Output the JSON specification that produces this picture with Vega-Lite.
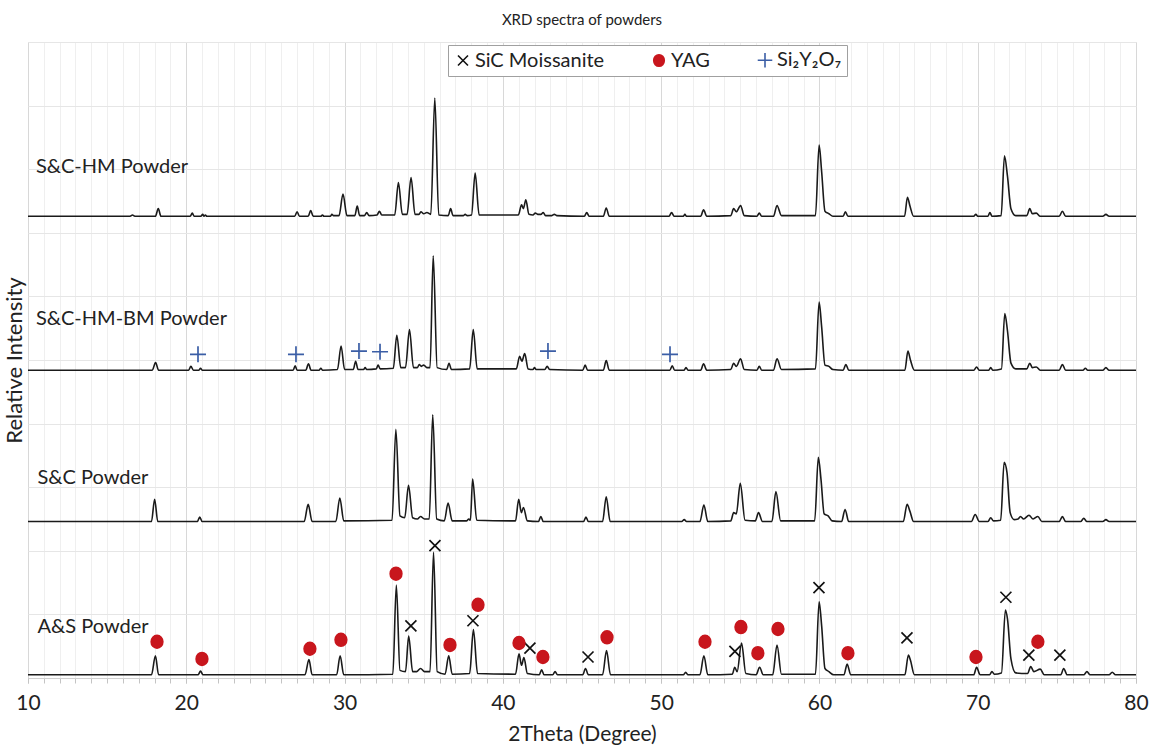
{
"$schema": "https://vega.github.io/schema/vega-lite/v6.json",
"width": 1108, "height": 636,
"autosize": {"type": "none"},
"padding": {"left": 28, "top": 42, "right": 17, "bottom": 69},
"background": "white",
"title": {"text": "XRD spectra of powders", "fontSize": 15, "fontWeight": "normal", "font": "Lato", "color": "#222", "offset": 14},
"config": {"font": "Lato", "view": {"stroke": "#d0d0d0"}, "axis": {"labelOverlap": false},
"legend": {"title": null, "orient": "none", "legendX": 420, "legendY": 3, "direction": "horizontal", "padding": 5, "strokeColor": "#a0a0a0", "fillColor": "white", "symbolSize": 330, "symbolStrokeWidth": 1.6, "labelFontSize": 20, "labelColor": "#222", "labelLimit": 400, "columnPadding": 44, "labelOffset": 2}},
"resolve": {"axis": {"x": "independent"}},
"datasets": {
"spectra": [
{"s":"A","x":10,"y":0.05},{"s":"A","x":17.8,"y":0.05},{"s":"A","x":18.05,"y":0.35},{"s":"A","x":18.25,"y":0.05},{"s":"A","x":20.75,"y":0.05},{"s":"A","x":20.9,"y":0.11},{"s":"A","x":21.05,"y":0.05},{"s":"A","x":27.5,"y":0.05},{"s":"A","x":27.75,"y":0.29},{"s":"A","x":27.95,"y":0.05},{"s":"A","x":29.5,"y":0.05},{"s":"A","x":29.72,"y":0.35},{"s":"A","x":29.95,"y":0.05},{"s":"A","x":33.05,"y":0.06},{"s":"A","x":33.27,"y":1.46},{"s":"A","x":33.5,"y":0.12},{"s":"A","x":33.85,"y":0.1},{"s":"A","x":34.05,"y":0.66},{"s":"A","x":34.3,"y":0.1},{"s":"A","x":34.55,"y":0.1},{"s":"A","x":34.8,"y":0.15},{"s":"A","x":35.05,"y":0.1},{"s":"A","x":35.4,"y":0.1},{"s":"A","x":35.62,"y":1.98},{"s":"A","x":35.85,"y":0.1},{"s":"A","x":36.35,"y":0.06},{"s":"A","x":36.58,"y":0.35},{"s":"A","x":36.8,"y":0.06},{"s":"A","x":37.9,"y":0.07},{"s":"A","x":38.14,"y":0.76},{"s":"A","x":38.4,"y":0.07},{"s":"A","x":40.8,"y":0.06},{"s":"A","x":41.02,"y":0.38},{"s":"A","x":41.18,"y":0.2},{"s":"A","x":41.33,"y":0.32},{"s":"A","x":41.55,"y":0.07},{"s":"A","x":42.3,"y":0.05},{"s":"A","x":42.45,"y":0.13},{"s":"A","x":42.6,"y":0.05},{"s":"A","x":43.15,"y":0.05},{"s":"A","x":43.3,"y":0.1},{"s":"A","x":43.45,"y":0.05},{"s":"A","x":45.05,"y":0.05},{"s":"A","x":45.22,"y":0.15},{"s":"A","x":45.4,"y":0.05},{"s":"A","x":46.3,"y":0.05},{"s":"A","x":46.55,"y":0.43},{"s":"A","x":46.8,"y":0.05},{"s":"A","x":51.4,"y":0.05},{"s":"A","x":51.55,"y":0.09},{"s":"A","x":51.7,"y":0.05},{"s":"A","x":52.45,"y":0.05},{"s":"A","x":52.7,"y":0.35},{"s":"A","x":52.95,"y":0.05},{"s":"A","x":54.5,"y":0.06},{"s":"A","x":54.65,"y":0.17},{"s":"A","x":54.8,"y":0.1},{"s":"A","x":55.08,"y":0.55},{"s":"A","x":55.35,"y":0.07},{"s":"A","x":56.0,"y":0.05},{"s":"A","x":56.22,"y":0.17},{"s":"A","x":56.45,"y":0.05},{"s":"A","x":57.05,"y":0.05},{"s":"A","x":57.32,"y":0.52},{"s":"A","x":57.6,"y":0.06},{"s":"A","x":59.75,"y":0.06},{"s":"A","x":59.98,"y":1.2},{"s":"A","x":60.14,"y":0.82},{"s":"A","x":60.35,"y":0.15},{"s":"A","x":60.6,"y":0.1},{"s":"A","x":60.9,"y":0.05},{"s":"A","x":61.55,"y":0.05},{"s":"A","x":61.75,"y":0.22},{"s":"A","x":61.98,"y":0.05},{"s":"A","x":65.4,"y":0.05},{"s":"A","x":65.62,"y":0.36},{"s":"A","x":65.75,"y":0.28},{"s":"A","x":66.0,"y":0.05},{"s":"A","x":69.75,"y":0.05},{"s":"A","x":69.93,"y":0.17},{"s":"A","x":70.15,"y":0.05},{"s":"A","x":70.75,"y":0.05},{"s":"A","x":70.9,"y":0.1},{"s":"A","x":71.05,"y":0.06},{"s":"A","x":71.5,"y":0.08},{"s":"A","x":71.75,"y":1.07},{"s":"A","x":71.88,"y":0.93},{"s":"A","x":72.1,"y":0.3},{"s":"A","x":72.4,"y":0.08},{"s":"A","x":73.15,"y":0.07},{"s":"A","x":73.35,"y":0.18},{"s":"A","x":73.55,"y":0.1},{"s":"A","x":73.95,"y":0.14},{"s":"A","x":74.2,"y":0.05},{"s":"A","x":75.25,"y":0.05},{"s":"A","x":75.43,"y":0.15},{"s":"A","x":75.65,"y":0.05},{"s":"A","x":76.7,"y":0.05},{"s":"A","x":76.9,"y":0.1},{"s":"A","x":77.1,"y":0.05},{"s":"A","x":78.3,"y":0.05},{"s":"A","x":78.5,"y":0.09},{"s":"A","x":78.7,"y":0.05},{"s":"A","x":80,"y":0.05},
{"s":"C","x":10,"y":2.46},{"s":"C","x":17.8,"y":2.46},{"s":"C","x":18.0,"y":2.81},{"s":"C","x":18.2,"y":2.46},{"s":"C","x":20.7,"y":2.46},{"s":"C","x":20.85,"y":2.53},{"s":"C","x":21.0,"y":2.46},{"s":"C","x":27.45,"y":2.46},{"s":"C","x":27.7,"y":2.73},{"s":"C","x":27.95,"y":2.46},{"s":"C","x":29.45,"y":2.46},{"s":"C","x":29.7,"y":2.83},{"s":"C","x":29.95,"y":2.47},{"s":"C","x":33.0,"y":2.48},{"s":"C","x":33.24,"y":3.91},{"s":"C","x":33.5,"y":2.55},{"s":"C","x":33.8,"y":2.52},{"s":"C","x":34.04,"y":3.03},{"s":"C","x":34.3,"y":2.52},{"s":"C","x":34.6,"y":2.5},{"s":"C","x":34.8,"y":2.54},{"s":"C","x":35.05,"y":2.5},{"s":"C","x":35.35,"y":2.5},{"s":"C","x":35.57,"y":4.14},{"s":"C","x":35.82,"y":2.5},{"s":"C","x":36.3,"y":2.47},{"s":"C","x":36.54,"y":2.75},{"s":"C","x":36.8,"y":2.47},{"s":"C","x":37.7,"y":2.47},{"s":"C","x":37.85,"y":2.5},{"s":"C","x":37.95,"y":2.48},{"s":"C","x":38.09,"y":3.13},{"s":"C","x":38.35,"y":2.48},{"s":"C","x":40.8,"y":2.47},{"s":"C","x":41.0,"y":2.81},{"s":"C","x":41.17,"y":2.6},{"s":"C","x":41.3,"y":2.68},{"s":"C","x":41.55,"y":2.47},{"s":"C","x":42.25,"y":2.46},{"s":"C","x":42.4,"y":2.54},{"s":"C","x":42.55,"y":2.46},{"s":"C","x":45.1,"y":2.46},{"s":"C","x":45.25,"y":2.53},{"s":"C","x":45.4,"y":2.46},{"s":"C","x":46.3,"y":2.46},{"s":"C","x":46.53,"y":2.85},{"s":"C","x":46.78,"y":2.46},{"s":"C","x":51.3,"y":2.46},{"s":"C","x":51.46,"y":2.49},{"s":"C","x":51.6,"y":2.46},{"s":"C","x":52.45,"y":2.46},{"s":"C","x":52.7,"y":2.72},{"s":"C","x":52.95,"y":2.46},{"s":"C","x":54.4,"y":2.47},{"s":"C","x":54.58,"y":2.6},{"s":"C","x":54.75,"y":2.58},{"s":"C","x":55.0,"y":3.06},{"s":"C","x":55.3,"y":2.48},{"s":"C","x":55.95,"y":2.47},{"s":"C","x":56.15,"y":2.6},{"s":"C","x":56.4,"y":2.46},{"s":"C","x":57.0,"y":2.46},{"s":"C","x":57.25,"y":2.93},{"s":"C","x":57.55,"y":2.47},{"s":"C","x":59.7,"y":2.47},{"s":"C","x":59.93,"y":3.47},{"s":"C","x":60.1,"y":3.12},{"s":"C","x":60.3,"y":2.58},{"s":"C","x":60.55,"y":2.55},{"s":"C","x":60.8,"y":2.47},{"s":"C","x":61.4,"y":2.46},{"s":"C","x":61.62,"y":2.65},{"s":"C","x":61.85,"y":2.46},{"s":"C","x":65.3,"y":2.46},{"s":"C","x":65.54,"y":2.73},{"s":"C","x":65.72,"y":2.62},{"s":"C","x":65.95,"y":2.46},{"s":"C","x":69.6,"y":2.46},{"s":"C","x":69.84,"y":2.57},{"s":"C","x":70.1,"y":2.46},{"s":"C","x":70.65,"y":2.46},{"s":"C","x":70.82,"y":2.52},{"s":"C","x":71.0,"y":2.47},{"s":"C","x":71.45,"y":2.48},{"s":"C","x":71.67,"y":3.39},{"s":"C","x":71.85,"y":3.23},{"s":"C","x":72.05,"y":2.6},{"s":"C","x":72.3,"y":2.49},{"s":"C","x":72.55,"y":2.5},{"s":"C","x":72.7,"y":2.54},{"s":"C","x":72.9,"y":2.5},{"s":"C","x":73.24,"y":2.56},{"s":"C","x":73.5,"y":2.5},{"s":"C","x":73.8,"y":2.54},{"s":"C","x":74.05,"y":2.46},{"s":"C","x":75.15,"y":2.46},{"s":"C","x":75.35,"y":2.54},{"s":"C","x":75.55,"y":2.46},{"s":"C","x":76.5,"y":2.46},{"s":"C","x":76.7,"y":2.51},{"s":"C","x":76.9,"y":2.46},{"s":"C","x":77.9,"y":2.46},{"s":"C","x":78.1,"y":2.49},{"s":"C","x":78.3,"y":2.46},{"s":"C","x":80,"y":2.46},
{"s":"B","x":10,"y":4.84},{"s":"B","x":17.85,"y":4.84},{"s":"B","x":18.06,"y":4.96},{"s":"B","x":18.25,"y":4.84},{"s":"B","x":20.15,"y":4.84},{"s":"B","x":20.29,"y":4.9},{"s":"B","x":20.45,"y":4.84},{"s":"B","x":20.8,"y":4.84},{"s":"B","x":20.9,"y":4.87},{"s":"B","x":21.0,"y":4.84},{"s":"B","x":26.75,"y":4.84},{"s":"B","x":26.88,"y":4.91},{"s":"B","x":27.0,"y":4.84},{"s":"B","x":27.55,"y":4.84},{"s":"B","x":27.72,"y":4.94},{"s":"B","x":27.88,"y":4.84},{"s":"B","x":28.4,"y":4.84},{"s":"B","x":28.5,"y":4.87},{"s":"B","x":28.6,"y":4.84},{"s":"B","x":29.55,"y":4.85},{"s":"B","x":29.78,"y":5.22},{"s":"B","x":30.0,"y":4.85},{"s":"B","x":30.55,"y":4.85},{"s":"B","x":30.7,"y":4.98},{"s":"B","x":30.85,"y":4.85},{"s":"B","x":31.2,"y":4.85},{"s":"B","x":31.3,"y":4.88},{"s":"B","x":31.4,"y":4.85},{"s":"B","x":32.0,"y":4.86},{"s":"B","x":32.12,"y":4.92},{"s":"B","x":32.25,"y":4.86},{"s":"B","x":33.08,"y":4.87},{"s":"B","x":33.3,"y":5.39},{"s":"B","x":33.55,"y":4.88},{"s":"B","x":33.85,"y":4.88},{"s":"B","x":34.1,"y":5.48},{"s":"B","x":34.35,"y":4.88},{"s":"B","x":34.6,"y":4.88},{"s":"B","x":34.72,"y":4.93},{"s":"B","x":34.85,"y":4.9},{"s":"B","x":35.0,"y":4.92},{"s":"B","x":35.2,"y":4.88},{"s":"B","x":35.4,"y":4.88},{"s":"B","x":35.6,"y":6.64},{"s":"B","x":35.85,"y":4.88},{"s":"B","x":36.45,"y":4.85},{"s":"B","x":36.6,"y":4.95},{"s":"B","x":36.75,"y":4.85},{"s":"B","x":37.9,"y":4.86},{"s":"B","x":38.13,"y":5.48},{"s":"B","x":38.38,"y":4.86},{"s":"B","x":40.85,"y":4.86},{"s":"B","x":41.06,"y":5.06},{"s":"B","x":41.2,"y":4.98},{"s":"B","x":41.38,"y":5.1},{"s":"B","x":41.6,"y":4.86},{"s":"B","x":41.9,"y":4.85},{"s":"B","x":42.0,"y":4.88},{"s":"B","x":42.1,"y":4.85},{"s":"B","x":42.65,"y":4.85},{"s":"B","x":42.8,"y":4.9},{"s":"B","x":42.95,"y":4.85},{"s":"B","x":45.05,"y":4.84},{"s":"B","x":45.2,"y":4.92},{"s":"B","x":45.35,"y":4.84},{"s":"B","x":46.35,"y":4.84},{"s":"B","x":46.53,"y":4.99},{"s":"B","x":46.72,"y":4.84},{"s":"B","x":50.55,"y":4.84},{"s":"B","x":50.7,"y":4.91},{"s":"B","x":50.85,"y":4.84},{"s":"B","x":51.45,"y":4.84},{"s":"B","x":51.57,"y":4.88},{"s":"B","x":51.7,"y":4.84},{"s":"B","x":52.5,"y":4.84},{"s":"B","x":52.68,"y":4.94},{"s":"B","x":52.88,"y":4.84},{"s":"B","x":54.4,"y":4.85},{"s":"B","x":54.58,"y":4.95},{"s":"B","x":54.75,"y":4.9},{"s":"B","x":55.02,"y":5.02},{"s":"B","x":55.25,"y":4.85},{"s":"B","x":56.05,"y":4.84},{"s":"B","x":56.2,"y":4.9},{"s":"B","x":56.35,"y":4.84},{"s":"B","x":57.1,"y":4.84},{"s":"B","x":57.32,"y":5.02},{"s":"B","x":57.6,"y":4.85},{"s":"B","x":59.75,"y":4.86},{"s":"B","x":59.98,"y":5.91},{"s":"B","x":60.14,"y":5.52},{"s":"B","x":60.35,"y":4.92},{"s":"B","x":60.6,"y":4.9},{"s":"B","x":60.85,"y":4.85},{"s":"B","x":61.5,"y":4.84},{"s":"B","x":61.67,"y":4.93},{"s":"B","x":61.85,"y":4.84},{"s":"B","x":65.4,"y":4.84},{"s":"B","x":65.59,"y":5.14},{"s":"B","x":65.75,"y":5.0},{"s":"B","x":66.0,"y":4.84},{"s":"B","x":69.75,"y":4.84},{"s":"B","x":69.93,"y":4.89},{"s":"B","x":70.1,"y":4.84},{"s":"B","x":70.7,"y":4.84},{"s":"B","x":70.82,"y":4.88},{"s":"B","x":70.95,"y":4.84},{"s":"B","x":71.5,"y":4.86},{"s":"B","x":71.71,"y":5.73},{"s":"B","x":71.88,"y":5.46},{"s":"B","x":72.1,"y":4.95},{"s":"B","x":72.4,"y":4.86},{"s":"B","x":73.1,"y":4.86},{"s":"B","x":73.29,"y":4.95},{"s":"B","x":73.45,"y":4.88},{"s":"B","x":73.7,"y":4.89},{"s":"B","x":73.95,"y":4.84},{"s":"B","x":75.15,"y":4.84},{"s":"B","x":75.35,"y":4.93},{"s":"B","x":75.55,"y":4.84},{"s":"B","x":76.65,"y":4.84},{"s":"B","x":76.8,"y":4.87},{"s":"B","x":76.95,"y":4.84},{"s":"B","x":77.9,"y":4.84},{"s":"B","x":78.1,"y":4.88},{"s":"B","x":78.3,"y":4.84},{"s":"B","x":80,"y":4.84},
{"s":"H","x":10,"y":7.26},{"s":"H","x":16.45,"y":7.26},{"s":"H","x":16.6,"y":7.28},{"s":"H","x":16.75,"y":7.26},{"s":"H","x":18.05,"y":7.26},{"s":"H","x":18.23,"y":7.38},{"s":"H","x":18.4,"y":7.26},{"s":"H","x":20.25,"y":7.26},{"s":"H","x":20.38,"y":7.31},{"s":"H","x":20.5,"y":7.26},{"s":"H","x":20.92,"y":7.26},{"s":"H","x":21.04,"y":7.29},{"s":"H","x":21.12,"y":7.26},{"s":"H","x":21.2,"y":7.28},{"s":"H","x":21.3,"y":7.26},{"s":"H","x":26.85,"y":7.26},{"s":"H","x":27.0,"y":7.33},{"s":"H","x":27.15,"y":7.26},{"s":"H","x":27.7,"y":7.26},{"s":"H","x":27.86,"y":7.35},{"s":"H","x":28.02,"y":7.26},{"s":"H","x":28.5,"y":7.26},{"s":"H","x":28.6,"y":7.28},{"s":"H","x":28.7,"y":7.26},{"s":"H","x":29.1,"y":7.26},{"s":"H","x":29.2,"y":7.29},{"s":"H","x":29.3,"y":7.27},{"s":"H","x":29.65,"y":7.27},{"s":"H","x":29.9,"y":7.61},{"s":"H","x":30.15,"y":7.27},{"s":"H","x":30.65,"y":7.27},{"s":"H","x":30.8,"y":7.42},{"s":"H","x":30.95,"y":7.27},{"s":"H","x":31.25,"y":7.27},{"s":"H","x":31.4,"y":7.32},{"s":"H","x":31.55,"y":7.27},{"s":"H","x":32.05,"y":7.28},{"s":"H","x":32.2,"y":7.34},{"s":"H","x":32.35,"y":7.28},{"s":"H","x":33.17,"y":7.28},{"s":"H","x":33.4,"y":7.79},{"s":"H","x":33.65,"y":7.29},{"s":"H","x":33.95,"y":7.29},{"s":"H","x":34.2,"y":7.87},{"s":"H","x":34.45,"y":7.29},{"s":"H","x":34.7,"y":7.29},{"s":"H","x":34.82,"y":7.33},{"s":"H","x":35.0,"y":7.3},{"s":"H","x":35.2,"y":7.32},{"s":"H","x":35.45,"y":7.29},{"s":"H","x":35.7,"y":9.12},{"s":"H","x":35.95,"y":7.28},{"s":"H","x":36.55,"y":7.27},{"s":"H","x":36.7,"y":7.38},{"s":"H","x":36.85,"y":7.27},{"s":"H","x":37.5,"y":7.27},{"s":"H","x":37.62,"y":7.29},{"s":"H","x":37.75,"y":7.27},{"s":"H","x":38.02,"y":7.28},{"s":"H","x":38.25,"y":7.94},{"s":"H","x":38.5,"y":7.28},{"s":"H","x":40.98,"y":7.28},{"s":"H","x":41.18,"y":7.44},{"s":"H","x":41.3,"y":7.38},{"s":"H","x":41.45,"y":7.52},{"s":"H","x":41.65,"y":7.29},{"s":"H","x":41.9,"y":7.28},{"s":"H","x":42.05,"y":7.31},{"s":"H","x":42.2,"y":7.29},{"s":"H","x":42.4,"y":7.29},{"s":"H","x":42.55,"y":7.32},{"s":"H","x":42.7,"y":7.27},{"s":"H","x":43.1,"y":7.27},{"s":"H","x":43.25,"y":7.29},{"s":"H","x":43.4,"y":7.27},{"s":"H","x":45.15,"y":7.26},{"s":"H","x":45.3,"y":7.32},{"s":"H","x":45.45,"y":7.26},{"s":"H","x":46.35,"y":7.26},{"s":"H","x":46.53,"y":7.39},{"s":"H","x":46.72,"y":7.26},{"s":"H","x":50.5,"y":7.26},{"s":"H","x":50.66,"y":7.32},{"s":"H","x":50.82,"y":7.26},{"s":"H","x":51.4,"y":7.26},{"s":"H","x":51.5,"y":7.29},{"s":"H","x":51.6,"y":7.26},{"s":"H","x":52.5,"y":7.26},{"s":"H","x":52.68,"y":7.36},{"s":"H","x":52.88,"y":7.26},{"s":"H","x":54.4,"y":7.27},{"s":"H","x":54.58,"y":7.38},{"s":"H","x":54.75,"y":7.33},{"s":"H","x":55.02,"y":7.43},{"s":"H","x":55.25,"y":7.27},{"s":"H","x":56.05,"y":7.26},{"s":"H","x":56.2,"y":7.31},{"s":"H","x":56.35,"y":7.26},{"s":"H","x":57.1,"y":7.26},{"s":"H","x":57.32,"y":7.43},{"s":"H","x":57.6,"y":7.27},{"s":"H","x":59.75,"y":7.27},{"s":"H","x":59.98,"y":8.38},{"s":"H","x":60.14,"y":7.96},{"s":"H","x":60.35,"y":7.34},{"s":"H","x":60.6,"y":7.3},{"s":"H","x":60.85,"y":7.26},{"s":"H","x":61.5,"y":7.26},{"s":"H","x":61.64,"y":7.33},{"s":"H","x":61.8,"y":7.26},{"s":"H","x":65.38,"y":7.26},{"s":"H","x":65.56,"y":7.56},{"s":"H","x":65.72,"y":7.42},{"s":"H","x":65.95,"y":7.26},{"s":"H","x":69.75,"y":7.26},{"s":"H","x":69.88,"y":7.29},{"s":"H","x":70.0,"y":7.26},{"s":"H","x":70.65,"y":7.26},{"s":"H","x":70.77,"y":7.32},{"s":"H","x":70.9,"y":7.26},{"s":"H","x":71.48,"y":7.27},{"s":"H","x":71.69,"y":8.21},{"s":"H","x":71.88,"y":7.89},{"s":"H","x":72.1,"y":7.38},{"s":"H","x":72.4,"y":7.27},{"s":"H","x":73.1,"y":7.27},{"s":"H","x":73.29,"y":7.38},{"s":"H","x":73.45,"y":7.3},{"s":"H","x":73.7,"y":7.31},{"s":"H","x":73.95,"y":7.26},{"s":"H","x":75.15,"y":7.26},{"s":"H","x":75.35,"y":7.34},{"s":"H","x":75.55,"y":7.26},{"s":"H","x":77.9,"y":7.26},{"s":"H","x":78.1,"y":7.29},{"s":"H","x":78.3,"y":7.26},{"s":"H","x":80,"y":7.26}
],
"markers": [
{"m":"SiC Moissanite","x":35.71,"y":2.08},{"m":"SiC Moissanite","x":34.19,"y":0.82},{"m":"SiC Moissanite","x":38.11,"y":0.9},{"m":"SiC Moissanite","x":41.71,"y":0.47},{"m":"SiC Moissanite","x":45.38,"y":0.33},{"m":"SiC Moissanite","x":54.66,"y":0.42},{"m":"SiC Moissanite","x":59.97,"y":1.42},{"m":"SiC Moissanite","x":65.53,"y":0.63},{"m":"SiC Moissanite","x":71.78,"y":1.27},{"m":"SiC Moissanite","x":73.23,"y":0.36},{"m":"SiC Moissanite","x":75.19,"y":0.36},
{"m":"YAG","x":18.15,"y":0.57},{"m":"YAG","x":20.99,"y":0.3},{"m":"YAG","x":27.81,"y":0.46},{"m":"YAG","x":29.77,"y":0.6},{"m":"YAG","x":33.25,"y":1.64},{"m":"YAG","x":36.66,"y":0.52},{"m":"YAG","x":38.43,"y":1.15},{"m":"YAG","x":41.02,"y":0.55},{"m":"YAG","x":42.53,"y":0.33},{"m":"YAG","x":46.58,"y":0.64},{"m":"YAG","x":52.77,"y":0.57},{"m":"YAG","x":55.04,"y":0.8},{"m":"YAG","x":56.11,"y":0.39},{"m":"YAG","x":57.38,"y":0.77},{"m":"YAG","x":61.8,"y":0.39},{"m":"YAG","x":69.89,"y":0.33},{"m":"YAG","x":73.8,"y":0.57},
{"m":"Si₂Y₂O₇","x":20.74,"y":5.09},{"m":"Si₂Y₂O₇","x":26.93,"y":5.09},{"m":"Si₂Y₂O₇","x":30.91,"y":5.14},{"m":"Si₂Y₂O₇","x":32.24,"y":5.13},{"m":"Si₂Y₂O₇","x":42.85,"y":5.14},{"m":"Si₂Y₂O₇","x":50.56,"y":5.09}
],
"labels": [
{"t":"S&C-HM Powder","x":10.5,"y":8.03},
{"t":"S&C-HM-BM Powder","x":10.5,"y":5.64},
{"t":"S&C Powder","x":10.6,"y":3.14},
{"t":"A&S Powder","x":10.6,"y":0.8}
]
},
"layer": [
{
"data": {"name": "spectra"},
"mark": {"type": "line", "color": "#1a1a1a", "strokeWidth": 1.6, "interpolate": "monotone"},
"encoding": {
"x": {"field": "x", "type": "quantitative", "scale": {"domain": [10, 80], "nice": false},
"axis": {"orient": "bottom", "values": [10,11,12,13,14,15,16,17,18,19,20,21,22,23,24,25,26,27,28,29,30,31,32,33,34,35,36,37,38,39,40,41,42,43,44,45,46,47,48,49,50,51,52,53,54,55,56,57,58,59,60,61,62,63,64,65,66,67,68,69,70,71,72,73,74,75,76,77,78,79,80],
"labels": false, "grid": true, "gridColor": "#efefef",
"tickColor": "#c4c4c4", "tickSize": 5, "domainColor": "#d0d0d0", "title": null}},
"y": {"field": "y", "type": "quantitative", "scale": {"domain": [0, 10], "nice": false},
"axis": {"values": [0,1,2,3,4,5,6,7,8,9,10], "labels": false, "ticks": false, "domain": false, "grid": true, "gridColor": "#e6e6e6",
"title": "Relative Intensity", "titleFontSize": 22, "titleFontWeight": "normal", "titleColor": "#222", "titlePadding": 2}},
"detail": {"field": "s"}
}
},
{
"data": {"name": "markers"},
"mark": {"type": "point", "size": 400, "strokeWidth": 1.7, "opacity": 1},
"encoding": {
"x": {"field": "x", "type": "quantitative",
"axis": {"orient": "bottom", "values": [10,20,30,40,50,60,70,80], "labelOverlap": false, "labelFlush": false,
"grid": true, "gridColor": "#d8d8d8", "ticks": true, "tickColor": "#c4c4c4", "tickSize": 5, "domain": false,
"labelFontSize": 21, "labelColor": "#222", "labelPadding": 9,
"title": "2Theta (Degree)", "titleFontSize": 21, "titleFontWeight": "normal", "titleColor": "#222", "titlePadding": 10}},
"y": {"field": "y", "type": "quantitative"},
"shape": {"field": "m", "type": "nominal", "scale": {"domain": ["SiC Moissanite", "YAG", "Si₂Y₂O₇"], "range": ["M-0.55,-0.55L0.55,0.55M-0.55,0.55L0.55,-0.55", "M-0.58,0A0.58,0.64,0,1,1,0.58,0A0.58,0.64,0,1,1,-0.58,0Z", "M-0.8,0L0.8,0M0,-0.8L0,0.8"]}},
"stroke": {"field": "m", "type": "nominal", "scale": {"domain": ["SiC Moissanite", "YAG", "Si₂Y₂O₇"], "range": ["#111111", "#c8161d", "#3b5ea6"]}},
"fill": {"field": "m", "type": "nominal", "scale": {"domain": ["SiC Moissanite", "YAG", "Si₂Y₂O₇"], "range": ["transparent", "#c8161d", "transparent"]}}
}
},
{
"data": {"name": "labels"},
"mark": {"type": "text", "align": "left", "baseline": "middle", "fontSize": 20, "color": "#222"},
"encoding": {
"x": {"field": "x", "type": "quantitative", "axis": null},
"y": {"field": "y", "type": "quantitative"},
"text": {"field": "t"}
}
}
]
}
